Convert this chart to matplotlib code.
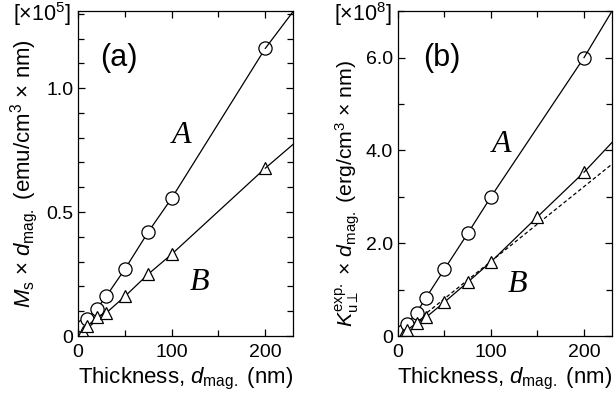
import numpy as np
import matplotlib as mpl
mpl.use('Agg')
import matplotlib.pyplot as plt
from matplotlib.ticker import MultipleLocator

# panel (a): Ms x d  [x1e5 emu/cm3 x nm]
thick_a = [5, 10, 20, 30, 50, 75, 100, 200]
ms_A = [0.04, 0.07, 0.11, 0.16, 0.27, 0.42, 0.556, 1.16]
ms_B = [0.015, 0.04, 0.075, 0.093, 0.16, 0.25, 0.33, 0.677]
ms_A_end = 1.31   # value at the right edge (230 nm)
ms_B_end = 0.774

# panel (b): Ku x d  [x1e8 erg/cm3 x nm]
thick_bA = [5, 10, 20, 30, 50, 75, 100, 200]
ku_A = [0.1, 0.26, 0.5, 0.82, 1.44, 2.21, 3.0, 6.0]
thick_bB = [5, 10, 20, 30, 50, 75, 100, 150, 200]
ku_B = [0.03, 0.13, 0.28, 0.4, 0.73, 1.16, 1.6, 2.57, 3.53]
ku_A_end = 7.0
ku_B_end = 4.17
ku_dash_slope = 0.0161

xmax = 230

plt.rcParams['font.family'] = ['Liberation Sans', 'DejaVu Sans']
plt.rcParams['mathtext.fontset'] = 'custom'
plt.rcParams['mathtext.rm'] = 'Liberation Sans'
plt.rcParams['mathtext.it'] = 'Liberation Sans:italic'

fig = plt.figure(figsize=(6.15, 4.01), dpi=100)
ax1 = fig.add_axes([0.127, 0.162, 0.350, 0.810])
ax2 = fig.add_axes([0.647, 0.162, 0.348, 0.810])

lw = 0.9
mk = dict(markerfacecolor='white', markeredgecolor='black', markeredgewidth=0.9, color='black', linewidth=lw)

def style(ax, ymax, ymajor, yminor):
    ax.set_xlim(0, xmax)
    ax.set_ylim(0, ymax)
    ax.xaxis.set_major_locator(MultipleLocator(100))
    ax.xaxis.set_minor_locator(MultipleLocator(50))
    ax.yaxis.set_major_locator(MultipleLocator(ymajor))
    ax.yaxis.set_minor_locator(MultipleLocator(yminor))
    ax.tick_params(which='both', direction='in', top=True, right=True, labelsize=14, width=0.9)
    ax.tick_params(which='major', length=5)
    ax.tick_params(which='minor', length=4)
    ax.tick_params(axis='x', pad=6)
    for s in ax.spines.values():
        s.set_linewidth(0.9)

serif = dict(fontsize=23, family='Liberation Serif', style='italic')

# (a)
ax1.plot(thick_a, ms_A, marker='o', markersize=9.5, **mk)
ax1.plot([thick_a[-1], xmax], [ms_A[-1], ms_A_end], color='black', linewidth=lw)
ax1.plot(thick_a, ms_B, marker='^', markersize=8, **mk)
ax1.plot([thick_a[-1], xmax], [ms_B[-1], ms_B_end], color='black', linewidth=lw)
style(ax1, 1.31, 0.5, 0.1)
ax1.set_yticks([0, 0.5, 1.0])
ax1.set_yticklabels(['0', '0.5', '1.0'])
ax1.set_xticks([0, 100, 200])
ax1.set_xticklabels(['0', '100', '200'])
ax1.set_xlabel(r'Thickness, $d_{\mathrm{mag.}}$ (nm)', fontsize=16, labelpad=3)
ax1.set_ylabel(r'$M_{\mathrm{s}}$ × $d_{\mathrm{mag.}}$ (emu/cm$^3$ × nm)', fontsize=16)
ax1.yaxis.set_label_coords(-0.177, 0.5)
ax1.text(0.10, 0.855, '(a)', transform=ax1.transAxes, fontsize=22, va='center')
ax1.text(100, 0.78, 'A', **serif)
ax1.text(119, 0.185, 'B', **serif)
fig.text(71 / 615, 1 - 14 / 401, r'[×10$^5$]', fontsize=15.5, ha='right', va='center')

# (b)
ax2.plot([0, xmax], [0, ku_dash_slope * xmax], color='black', linewidth=lw, linestyle=(0, (3, 2)))
ax2.plot(thick_bA, ku_A, marker='o', markersize=9.5, **mk)
ax2.plot([thick_bA[-1], xmax], [ku_A[-1], ku_A_end], color='black', linewidth=lw)
ax2.plot(thick_bB, ku_B, marker='^', markersize=8, **mk)
ax2.plot([thick_bB[-1], xmax], [ku_B[-1], ku_B_end], color='black', linewidth=lw)
style(ax2, 7.0, 2.0, 1.0)
ax2.set_yticks([0, 2, 4, 6])
ax2.set_yticklabels(['0', '2.0', '4.0', '6.0'])
ax2.set_xticks([0, 100, 200])
ax2.set_xticklabels(['0', '100', '200'])
ax2.set_xlabel(r'Thickness, $d_{\mathrm{mag.}}$ (nm)', fontsize=16, labelpad=3)
ax2.set_ylabel(r'$K_{\mathrm{u}\perp}^{\mathrm{exp.}}$ × $d_{\mathrm{mag.}}$ (erg/cm$^3$ × nm)', fontsize=15.3)
ax2.yaxis.set_label_coords(-0.168, 0.44)
ax2.text(0.117, 0.855, '(b)', transform=ax2.transAxes, fontsize=22, va='center')
ax2.text(101, 3.96, 'A', **serif)
ax2.text(118, 0.95, 'B', **serif)
fig.text(392 / 615, 1 - 14 / 401, r'[×10$^8$]', fontsize=15.5, ha='right', va='center')

fig.savefig('out.png', dpi=100)
